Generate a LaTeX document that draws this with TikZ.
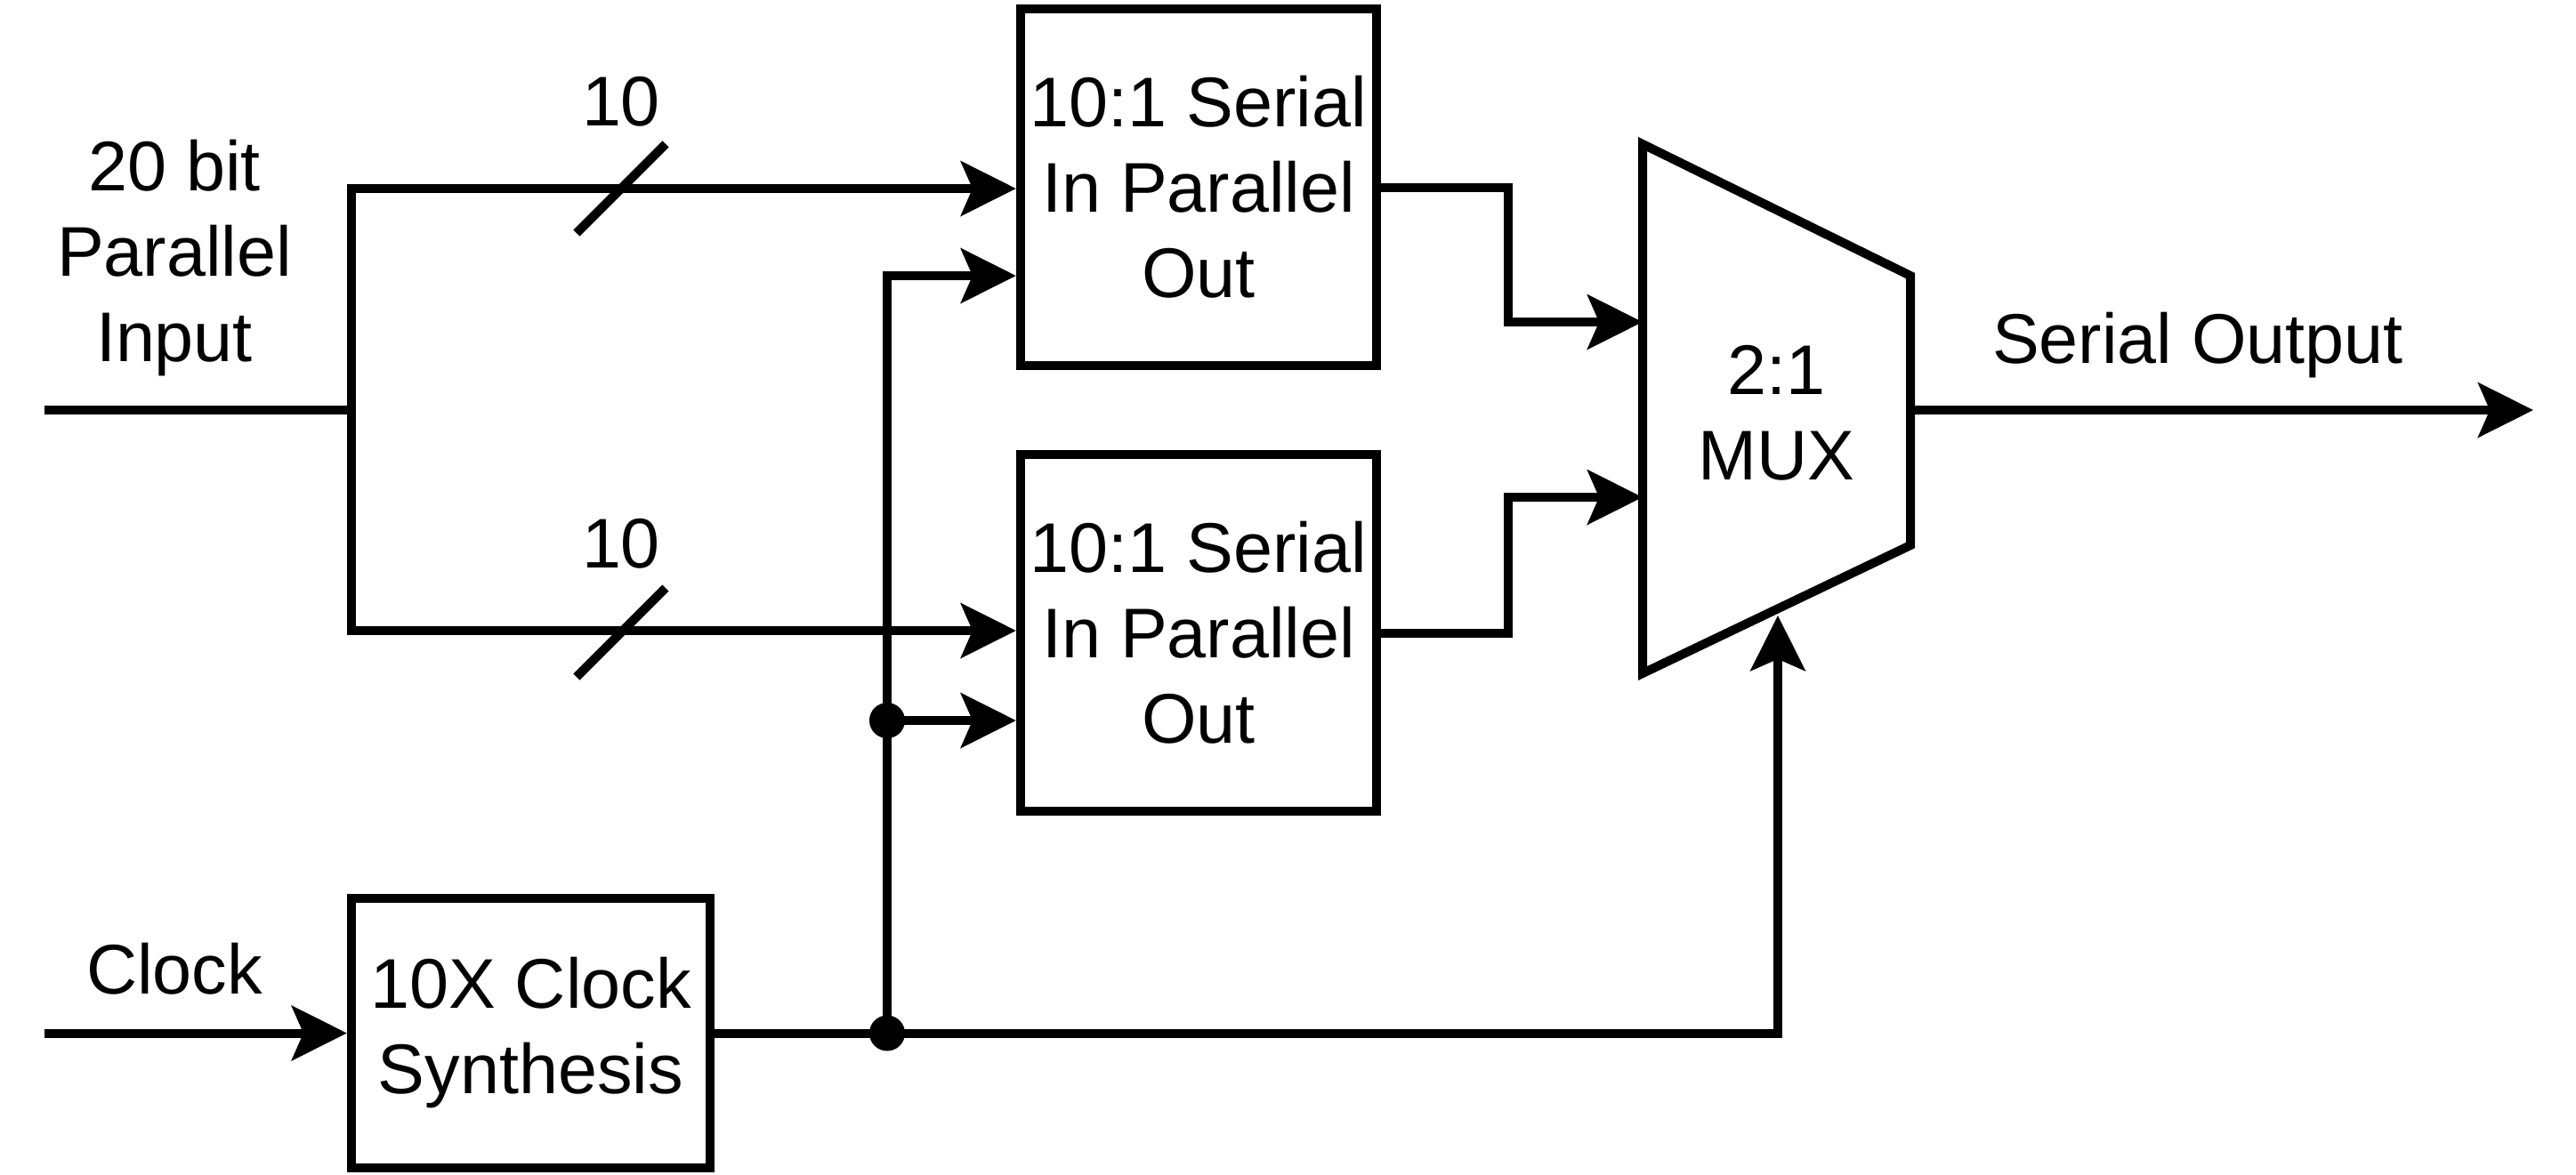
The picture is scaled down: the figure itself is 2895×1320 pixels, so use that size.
\documentclass[tikz,border=0pt]{standalone}
\usepackage{fontspec}
\setmainfont{Liberation Sans}
\usetikzlibrary{arrows.meta,calc}
\begin{document}
\begin{tikzpicture}[x=0.01cm,y=-0.01cm,
  every node/.style={font=\fontsize{22.5}{27.3}\selectfont, inner sep=0pt, align=center},
  wire/.style={line width=2.85pt, line join=miter},
  arr/.style={wire, -{Stealth[length=17.6pt, width=17.4pt, inset=3.7pt]}},
  blk/.style={draw, line width=2.85pt, minimum width=4cm, minimum height=4cm},
  dotn/.style={circle, fill=black, minimum size=0.4cm, inner sep=0pt}
]
\useasboundingbox (0,0) rectangle (2895,1320);
% blocks
\node[blk] (top) at (1347,210.5) {10:1 Serial\\In Parallel\\Out};
\node[blk] (bot) at (1347,711.5) {10:1 Serial\\In Parallel\\Out};
\node[blk, minimum width=4.03cm, minimum height=3.03cm] (syn) at (596.5,1161.5) {10X Clock\\Synthesis};
% MUX
\draw[wire] (1846,162) coordinate (mtl) -- (2147,310) coordinate (mtr) -- (2147,613) coordinate (mbr) -- (1846,757) coordinate (mbl) -- cycle;
\node (mux) at (1996,464) {2:1\\MUX};
% labels
\node (lin) at (196,290) {20 bit\\Parallel\\Input};
\node (lclk) at (196,1089) {Clock};
\node (lout) at (2470,388) {Serial Output};
\node (n1) at (698,114) {10};
\node (n2) at (698,611) {10};
% coordinates
\coordinate (in) at (50,461);
\coordinate (sp) at (395,461);
\coordinate (spT) at (395,212);
\coordinate (spB) at (395,709);
\coordinate (clkin) at (50,1161.5);
\coordinate (ct) at (997,310);
\coordinate (m1) at (1846,362);
\coordinate (m2) at (1846,559);
\coordinate (msel) at (1998,692);
\coordinate (mo) at (2147,461);
\coordinate (out) at (2847,461);
\node[dotn] (d1) at (997,1161.5) {};
\node[dotn] (d2) at (997,810) {};
% data input
\draw[wire] (in) -- (sp);
\draw[arr] (sp) -- (spT) -- (spT -| top.west);
\draw[arr] (sp) -- (spB) -- (spB -| bot.west);
% bus slashes
\draw[wire] (648,262) coordinate (s1a) -- (748,162) coordinate (s1b);
\draw[wire] (648,761) coordinate (s2a) -- (748,661) coordinate (s2b);
% clock
\draw[arr] (clkin) -- (syn.west);
\draw[arr] (syn.east) -- (d1.center) -| (msel);
\draw[arr] (d1.center) -- (ct) -- (ct -| top.west);
\draw[arr] (d2.center) -- (d2 -| bot.west);
% SIPO to MUX
\draw[arr] (top.east) -| (1695,362) -- (m1);
\draw[arr] (bot.east) -| (1695,559) -- (m2);
% output
\draw[arr] (mo) -- (out);
\end{tikzpicture}
\end{document}
